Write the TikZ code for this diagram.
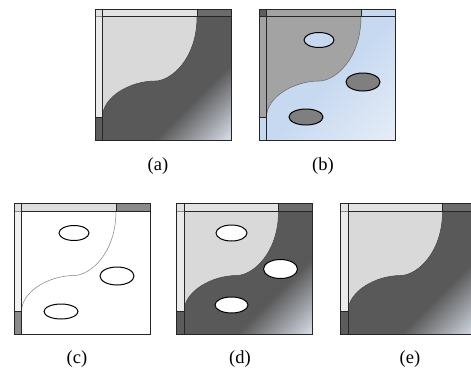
\documentclass[tikz,border=0pt]{standalone}
\usepackage{fontspec}
\setmainfont{Liberation Serif}
\usetikzlibrary{shapes.geometric}
\definecolor{darkA}{HTML}{595959}
\definecolor{lightEndA}{HTML}{DDE3EE}
\definecolor{lightA}{HTML}{D9D9D9}
\definecolor{topLA}{HTML}{E3E3E3}
\definecolor{topRA}{HTML}{6B6B6B}
\definecolor{leftTA}{HTML}{EBEBEB}
\definecolor{leftBA}{HTML}{5C5C5C}
\definecolor{grayB}{HTML}{A3A3A3}
\definecolor{blueB}{HTML}{C6D9F1}
\definecolor{blueEndB}{HTML}{E6EDF7}
\definecolor{cornerB}{HTML}{5E5E5E}
\definecolor{ellB}{HTML}{7F7F7F}
\definecolor{topLC}{HTML}{DEDEDE}
\definecolor{topRC}{HTML}{8A8A8A}
\definecolor{leftTC}{HTML}{F0F0F0}
\pgfdeclarehorizontalshading{gradA}{100bp}{color(0bp)=(darkA); color(64bp)=(darkA); color(86bp)=(lightEndA); color(100bp)=(lightEndA)}
\pgfdeclarehorizontalshading{gradB}{100bp}{color(0bp)=(blueB); color(50bp)=(blueB); color(86bp)=(blueEndB); color(100bp)=(blueEndB)}
\tikzset{
  frame/.style={draw=black!85, line width=1pt},
  thinsep/.style={draw=black!45, line width=0.6pt},
  curveline/.style={draw=black!70, line width=0.5pt},
  blob/.style={draw=black, line width=1pt, ellipse, inner sep=0pt},
  lab/.style={font=\fontsize{18.5}{20}\selectfont, inner sep=0pt},
}
\def\W{136}\def\H{131}\def\T{7.5}\def\SX{102}\def\SY{108}
\def\curvepath{(\SX,\T) .. controls (\SX,50) and (76,72) .. (60,72) .. controls (35,72) and (\T,88) .. (\T,\SY)}
\newcommand\panelbars[4]{%
  \fill[#1] (0,0) rectangle (\SX,\T);
  \fill[#2] (\SX,0) rectangle (\W,\T);
  \fill[#3] (0,\T) rectangle (\T,\SY);
  \fill[#4] (0,\SY) rectangle (\T,\H);
}
\newcommand\panellines{%
  \draw[frame] (\T,\T) -- (\W,\T);
  \draw[frame] (\T,0) -- (\T,\H);
  \draw[frame] (\SX,0) -- (\SX,\T);
  \draw[frame] (0,\SY) -- (\T,\SY);
  \draw[frame] (0,0) rectangle (\W,\H);
}
\newcommand\panelA{%
  \shade[shading=gradA, shading angle=-45] (\T,\T) rectangle (\W,\H);
  \fill[lightA] (\T,\T) -- \curvepath -- cycle;
  \draw[curveline, draw=black!75] \curvepath;
  \panelbars{topLA}{topRA}{leftTA}{leftBA}
  \draw[thinsep] (0,\T) -- (\T,\T);
}
\begin{document}
\begin{tikzpicture}[x=1pt,y=-1pt]
\useasboundingbox (0,0) rectangle (471,373);
\clip (0,0) rectangle (471,373);
% (a)
\begin{scope}[shift={(95,9)}]
  \panelA
  \panellines
\end{scope}
% (b)
\begin{scope}[shift={(259,9)}]
  \shade[shading=gradB, shading angle=-45] (\T,\T) rectangle (\W,\H);
  \fill[grayB] (\T,\T) -- \curvepath -- cycle;
  \draw[curveline, draw=black!60] \curvepath;
  \panelbars{grayB}{blueB}{grayB}{blueB}
  \fill[cornerB] (0,0) rectangle (\T,\T);
  \draw[frame] (0,\T) -- (\T,\T);
  \panellines
  \node[blob, fill=blueB, minimum width=30pt, minimum height=15pt] (b1) at (60,31) {};
  \node[blob, fill=ellB, minimum width=34pt, minimum height=18pt] (b2) at (104,73) {};
  \node[blob, fill=ellB, minimum width=34pt, minimum height=16pt] (b3) at (47,108) {};
\end{scope}
% (c)
\begin{scope}[shift={(14,203.5)}]
  \fill[white] (\T,\T) rectangle (\W,\H);
  \draw[curveline, draw=black!50] \curvepath;
  \panelbars{topLC}{topRC}{leftTC}{topRC}
  \draw[thinsep] (0,\T) -- (\T,\T);
  \panellines
  \node[blob, fill=white, minimum width=30pt, minimum height=15pt] (c1) at (60,29.5) {};
  \node[blob, fill=white, minimum width=34pt, minimum height=18pt] (c2) at (103,72.5) {};
  \node[blob, fill=white, minimum width=34pt, minimum height=15pt] (c3) at (47,108) {};
\end{scope}
% (d)
\begin{scope}[shift={(176.5,203.5)}]
  \panelA
  \panellines
  \node[blob, fill=white, minimum width=31pt, minimum height=16pt] (d1) at (55,29.5) {};
  \node[blob, fill=white, minimum width=34pt, minimum height=19pt] (d2) at (104,65.5) {};
  \node[blob, fill=white, minimum width=33pt, minimum height=16pt] (d3) at (55,101.5) {};
\end{scope}
% (e)
\begin{scope}[shift={(340.5,203.5)}]
  \panelA
  \panellines
\end{scope}
% labels
\node[lab] (la) at (158,166) {(a)};
\node[lab] (lb) at (323,166) {(b)};
\node[lab] (lc) at (77,359) {(c)};
\node[lab] (ld) at (240,359) {(d)};
\node[lab] (le) at (410,359) {(e)};
\end{tikzpicture}
\end{document}
